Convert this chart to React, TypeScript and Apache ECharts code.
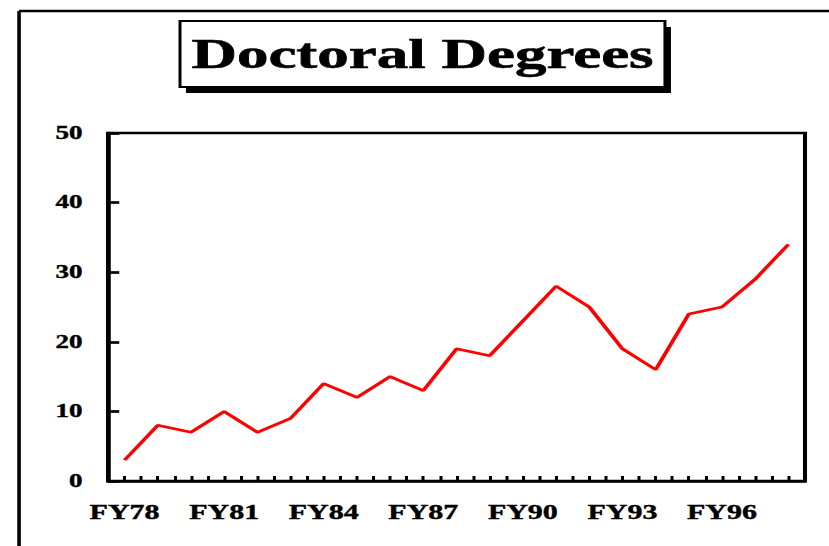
import React, { useEffect, useRef } from "react";
import * as echarts from "echarts";

const categories = ["FY78","FY79","FY80","FY81","FY82","FY83","FY84","FY85","FY86","FY87","FY88","FY89","FY90","FY91","FY92","FY93","FY94","FY95","FY96","FY97","FY98"];
const degrees = [3, 8, 7, 10, 7, 9, 14, 12, 15, 13, 19, 18, 23, 28, 25, 19, 16, 24, 25, 29, 34];
const yTicks = [0, 10, 20, 30, 40, 50];
const titleText = "Doctoral Degrees";

const SX = 1.5; // horizontal stretch of the original picture
const W = 829 / SX;
const H = 546;
const FONT = "'Liberation Serif', 'Times New Roman', serif";

export default function App() {
  const ref = useRef<HTMLDivElement>(null);
  useEffect(() => {
    if (!ref.current) return;
    const chart = echarts.init(ref.current, null, { renderer: "svg", width: W, height: H });
    const data = categories.map((c, i) => [i, degrees[i]]);
    chart.setOption({
      animation: false,
      backgroundColor: "#fff",
      grid: {
        left: 108 / SX,
        right: 24 / SX,
        top: 133,
        bottom: 65,
        show: true,
        borderColor: "#000",
        borderWidth: 2.7,
      },
      xAxis: {
        type: "value",
        min: -0.5,
        max: categories.length - 0.5,
        interval: 0.5,
        splitLine: { show: false },
        axisLine: { show: true, onZero: false, lineStyle: { color: "#000", width: 2.7 } },
        axisTick: { show: true, inside: true, length: 5, lineStyle: { color: "#000", width: 2 } },
        axisLabel: {
          margin: 21,
          color: "#000",
          fontFamily: FONT,
          fontWeight: "bold",
          fontSize: 20,
          textBorderColor: "#000",
          textBorderWidth: 0.4,
          formatter: (v: number) => {
            const i = Math.round(v);
            if (Math.abs(v - i) > 1e-6) return "";
            if (i < 0 || i >= categories.length || i % 3 !== 0) return "";
            return categories[i];
          },
        },
      },
      yAxis: {
        type: "value",
        min: yTicks[0],
        max: yTicks[yTicks.length - 1],
        interval: yTicks[1] - yTicks[0],
        splitLine: { show: false },
        axisLine: { show: true, onZero: false, lineStyle: { color: "#000", width: 2.7 } },
        axisTick: { show: true, inside: true, length: 7.5, lineStyle: { color: "#000", width: 2.7 } },
        axisLabel: {
          margin: 17,
          color: "#000",
          fontFamily: FONT,
          fontWeight: "bold",
          fontSize: 18,
          textBorderColor: "#000",
          textBorderWidth: 0.4,
        },
      },
      series: [
        {
          type: "line",
          data,
          symbol: "none",
          lineStyle: { color: "#ff0000", width: 2.7 },
        },
      ],
      graphic: [
        { type: "line", shape: { x1: 12.7, y1: 11, x2: W, y2: 11 }, style: { stroke: "#000", lineWidth: 2.6 } },
        { type: "line", shape: { x1: 12.7, y1: 11, x2: 12.7, y2: H }, style: { stroke: "#000", lineWidth: 2.4 } },
        { type: "rect", shape: { x: 124, y: 27, width: 323.3, height: 66 }, style: { fill: "#000" } },
        { type: "rect", shape: { x: 120, y: 21, width: 323.3, height: 66 }, style: { fill: "#fff", stroke: "#000", lineWidth: 2 } },
        {
          type: "text",
          x: 281.7,
          y: 54,
          style: {
            text: titleText,
            fill: "#000",
            font: `bold 42px ${FONT}`,
            align: "center",
            verticalAlign: "middle",
            stroke: "#000",
            lineWidth: 0.6,
          },
        },
      ],
    });
    return () => chart.dispose();
  }, []);
  return (
    <div
      style={{
        position: "fixed",
        left: 0,
        top: 0,
        width: 829,
        height: H,
        overflow: "hidden",
        background: "#fff",
      }}
    >
      <div
        ref={ref}
        style={{
          width: W,
          height: H,
          transform: `scaleX(${SX})`,
          transformOrigin: "0 0",
        }}
      />
    </div>
  );
}
